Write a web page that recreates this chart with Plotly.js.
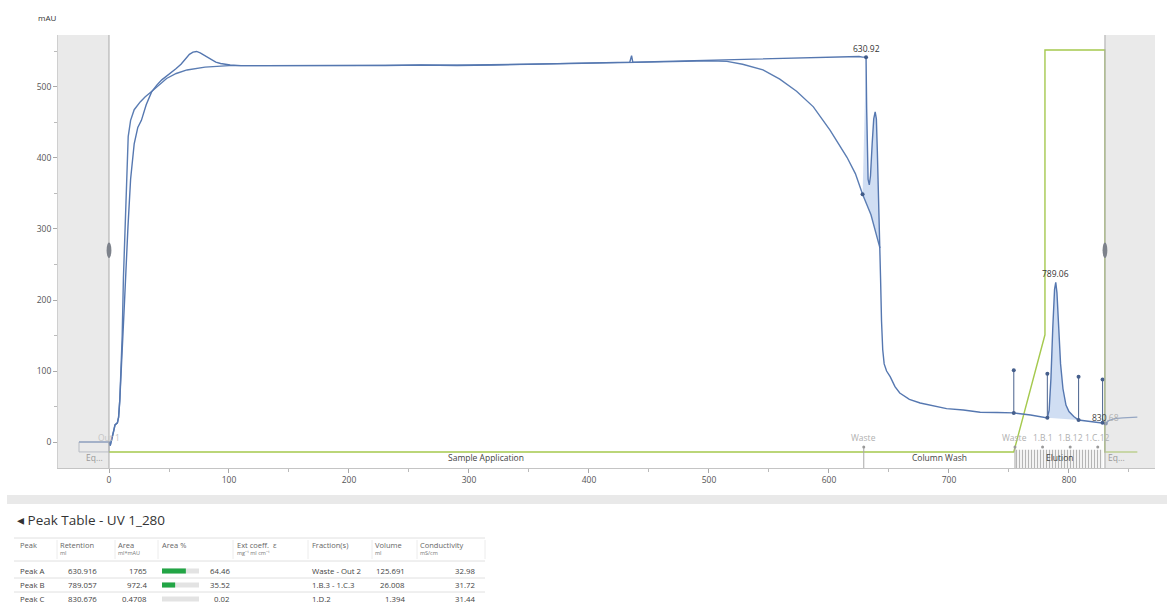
<!DOCTYPE html>
<html><head><meta charset="utf-8">
<script src="https://cdn.plot.ly/plotly-3.0.1.min.js"></script>
<style>html,body{margin:0;padding:0;background:#fff;} #chart{width:1167px;height:605px;}</style>
</head><body><div id="chart"></div><script>
// ---------------- DATA ----------------
const curveAx = [-25, 0, 1, 3.6, 5, 7, 8, 9, 11, 13, 15.8, 18, 21, 24, 27, 31, 35.5, 40, 44, 48, 52, 56, 60, 64, 67, 70, 73, 76, 79, 82, 85, 89, 93, 97, 101, 110, 120, 140, 160, 180, 200, 230, 260, 290, 320, 350, 380, 400, 420, 434, 435.5, 436.5, 438, 460, 480, 500, 520, 540, 560, 580, 600, 615, 625, 628, 630.9, 631.4, 631.9, 632.6, 633.6, 634.6, 636, 637.3, 638.5, 639.5, 640.3, 641, 641.8, 642.5, 643, 643.8, 644.8, 646, 648, 651, 655, 659, 667, 676, 687, 698, 712, 726, 740, 754, 768, 782, 783.5, 785, 786.5, 788, 789, 790, 791.5, 793, 795, 797.5, 800, 804, 808, 818, 828, 830.7, 833, 838, 845, 851, 857];
const curveAy = [0, 0, -5, 13, 24, 27, 35, 59, 120, 200, 303, 370, 420, 443, 453, 475, 493, 503, 510, 515, 520, 526, 532, 540, 546, 549, 550, 548, 545, 541, 538, 535, 533, 532, 531, 530, 530, 529, 530, 529, 530, 530, 531, 530, 531, 532, 533, 533, 534, 535, 544, 535, 535, 536, 536, 537, 538, 539, 540, 541, 542, 542, 543, 542, 542, 470, 400, 370, 362, 375, 420, 455, 465, 455, 410, 350, 295, 273, 230, 170, 130, 110, 100, 92, 78, 69, 60, 55, 51, 47, 45, 42, 41.5, 41, 38, 34, 45, 90, 160, 215, 225, 210, 160, 110, 75, 52, 43, 36, 31, 29, 27, 26, 30, 33, 34, 34, 35];
const curveBx = [0, 1, 3.6, 5, 7, 8, 9, 10, 11, 12, 13.3, 14.5, 16, 18, 21, 26, 30, 35, 42, 48, 56, 65, 80, 100, 130, 160, 200, 250, 300, 350, 400, 450, 480, 500, 515, 528, 545, 559, 573, 587, 601, 615, 622, 628, 635, 642.5];
const curveBy = [0, -5, 13, 24, 27, 35, 59, 100, 150, 230, 303, 380, 430, 453, 468, 479, 486, 493, 503, 512, 519, 524, 528, 530, 530, 530, 530, 531, 531, 532, 533, 535, 536, 537, 536, 532, 524, 511, 494, 472, 439, 401, 378, 349, 320, 273];

const gradientX = [0, 754, 780, 780, 830, 830, 857];
const gradientY = [-14, -14, 151, 552, 552, -14, -14];

const peakLabels = ['630.92', '789.06'];
const peakLabelX = [631.5, 788.5];
const peakLabelY = [542, 225];
const peakMarkX = [630.9, 628, 830.7];
const peakMarkY = [542, 349, 26];
const peakARange = [628, 642.5];
const peakBRange = [782, 808];

const stemX = [754, 782, 808, 828];
const stemTop = [101, 96, 92, 88];
const stemBase = [41, 34, 31, 27];

const fracLabels = ['Out 1', 'Waste', 'Waste', '1.B.1', '1.B.12', '1.C.12'];
const fracX = [0, 629, 755, 778, 801, 824];
const fracLine = [false, true, true, false, false, false];

const phaseNames = ['Eq...', 'Sample Application', 'Column Wash', 'Elution', 'Eq...'];
const phaseStart = [-25, 0, 629, 755, 830];
const phaseEnd = [0, 629, 755, 830, 857];

const xTicks = [0, 100, 200, 300, 400, 500, 600, 700, 800];
const yTicks = [0, 100, 200, 300, 400, 500];

// table
const tableTitle = '\u25C2 Peak Table - UV 1_280';
const headMain = ['Peak', 'Retention', 'Area', 'Area %', 'Ext coeff.  \u03B5', 'Fraction(s)', 'Volume', 'Conductivity'];
const headUnit = ['', 'ml', 'ml*mAU', '', 'mg\u207B\u00B9 ml cm\u207B\u00B9', '', 'ml', 'mS/cm'];
const peakNames = ['Peak A', 'Peak B', 'Peak C'];
const retention = ['630.916', '789.057', '830.676'];
const areaVals = ['1765', '972.4', '0.4708'];
const areaPct = [64.46, 35.52, 0.02];
const fractions = ['Waste - Out 2', '1.B.3 - 1.C.3', '1.D.2'];
const volumes = ['125.691', '26.008', '1.394'];
const conductivity = ['32.98', '31.72', '31.44'];

// ---------------- LAYOUT HELPERS ----------------
const W = 1167, H = 605;
const px = v => v / W;
const py = v => 1 - v / H;
const FONT = 'Open Sans, Noto Sans, sans-serif';
const XR = [-42.5, 871.7], YR = [-36.6, 573.2];

const traces = [];

// elution hatch block
const eIdx = phaseNames.indexOf('Elution');
traces.push({
  x: [phaseStart[eIdx], phaseEnd[eIdx] - 2, phaseEnd[eIdx] - 2, phaseStart[eIdx], phaseStart[eIdx]],
  y: [-11, -11, YR[0], YR[0], -11],
  mode: 'lines', fill: 'toself', line: {width: 0, color: 'rgba(0,0,0,0)'},
  fillcolor: '#f2f2f2',
  fillpattern: {shape: '|', fgcolor: '#b5b5b5', bgcolor: '#f3f3f3', size: 3, solidity: 0.35},
  hoverinfo: 'skip', showlegend: false
});

// gradient / phase line
traces.push({x: gradientX, y: gradientY, mode: 'lines', line: {color: '#a5c94e', width: 1.4}, hoverinfo: 'skip', showlegend: false});

// peak A fill
(function () {
  const fx = [], fy = [];
  fx.push(peakMarkX[0]); fy.push(peakMarkY[0]);
  curveAx.forEach((x, i) => { if (x > peakMarkX[0] && x <= peakARange[1]) { fx.push(x); fy.push(curveAy[i]); } });
  for (let i = curveBx.length - 1; i >= 0; i--) {
    if (curveBx[i] >= peakARange[0] && curveBx[i] <= peakARange[1]) { fx.push(curveBx[i]); fy.push(curveBy[i]); }
  }
  traces.push({x: fx, y: fy, mode: 'lines', fill: 'toself', fillcolor: 'rgba(120,160,220,0.35)', line: {width: 0}, hoverinfo: 'skip', showlegend: false});
})();
// peak B fill
(function () {
  const fx = [], fy = [];
  curveAx.forEach((x, i) => { if (x >= peakBRange[0] && x <= peakBRange[1]) { fx.push(x); fy.push(curveAy[i]); } });
  traces.push({x: fx, y: fy, mode: 'lines', fill: 'toself', fillcolor: 'rgba(120,160,220,0.35)', line: {width: 0}, hoverinfo: 'skip', showlegend: false});
})();

// UV curves
traces.push({x: curveBx, y: curveBy, mode: 'lines', line: {color: '#5b7db3', width: 1.4}, hoverinfo: 'skip', showlegend: false});
traces.push({x: curveAx, y: curveAy, mode: 'lines', line: {color: '#5577b0', width: 1.4}, hoverinfo: 'skip', showlegend: false});

// stems
(function () {
  const sx = [], sy = [];
  stemX.forEach((x, i) => { sx.push(x, x, null); sy.push(stemBase[i], stemTop[i], null); });
  traces.push({x: sx, y: sy, mode: 'lines+markers', line: {color: '#5a7098', width: 1.1}, marker: {size: 4, color: '#465f8c'}, hoverinfo: 'skip', showlegend: false});
})();

// peak markers
traces.push({x: peakMarkX, y: peakMarkY, mode: 'markers', marker: {size: 4, color: '#3f5a88'}, hoverinfo: 'skip', showlegend: false});

// fraction markers
(function () {
  const lx = [], ly = [];
  fracX.forEach((x, i) => { if (fracLine[i]) { lx.push(x, x, null); ly.push(-7, YR[0], null); } });
  traces.push({x: lx, y: ly, mode: 'lines', line: {color: '#a8a8a8', width: 1}, hoverinfo: 'skip', showlegend: false});
  traces.push({x: fracX.slice(1), y: fracX.slice(1).map(() => -7), mode: 'markers', marker: {size: 3, color: '#9a9a9a'}, hoverinfo: 'skip', showlegend: false});
})();

// table area % bars
traces.push({type: 'bar', orientation: 'h', x: areaPct.map(() => 100), y: [2, 1, 0], width: 0.36, marker: {color: '#e3e3e3'}, xaxis: 'x2', yaxis: 'y2', hoverinfo: 'skip', showlegend: false});
traces.push({type: 'bar', orientation: 'h', x: areaPct, y: [2, 1, 0], width: 0.36, marker: {color: '#22a545'}, xaxis: 'x2', yaxis: 'y2', hoverinfo: 'skip', showlegend: false});

// ---------------- SHAPES ----------------
const shapes = [];
shapes.push({type: 'rect', layer: 'above', xref: 'x', yref: 'y domain', x0: XR[0], x1: 0, y0: 0, y1: 1, fillcolor: 'rgba(214,214,214,0.5)', line: {width: 0}});
shapes.push({type: 'rect', layer: 'above', xref: 'x', yref: 'y domain', x0: 830, x1: XR[1], y0: 0, y1: 1, fillcolor: 'rgba(214,214,214,0.5)', line: {width: 0}});
shapes.push({type: 'rect', layer: 'below', xref: 'x', yref: 'y', x0: phaseStart[0], x1: phaseEnd[0], y0: -14, y1: 0, fillcolor: 'rgba(0,0,0,0)', line: {color: '#9aa3b3', width: 1}});
[0, 830].forEach(x => {
  shapes.push({type: 'line', layer: 'above', xref: 'x', yref: 'y domain', x0: x, x1: x, y0: 0, y1: 1, line: {color: '#a9a9a9', width: 1}});
  shapes.push({type: 'circle', layer: 'above', xref: 'x', yref: 'y', x0: x - 2, x1: x + 2, y0: 259, y1: 281, fillcolor: '#7d828b', line: {width: 0}});
});
shapes.push({type: 'rect', xref: 'paper', yref: 'paper', x0: px(7), x1: 1, y0: py(504), y1: py(495), fillcolor: '#e9e9e9', line: {width: 0}});
[538, 561, 578, 592].forEach(yv => shapes.push({type: 'line', xref: 'paper', yref: 'paper', x0: px(14), x1: px(485), y0: py(yv), y1: py(yv), line: {color: '#e0e0e0', width: 1}}));
[57, 115, 158, 233, 308, 372, 417, 485].forEach(xv => shapes.push({type: 'line', xref: 'paper', yref: 'paper', x0: px(xv), x1: px(xv), y0: py(540), y1: py(559), line: {color: '#ececec', width: 1}}));

// ---------------- ANNOTATIONS ----------------
const ann = [];
ann.push({xref: 'paper', yref: 'paper', x: px(36), y: py(18), text: 'mAU', showarrow: false, xanchor: 'left', yanchor: 'middle', font: {family: FONT, size: 8, color: '#333'}});
peakLabels.forEach((t, i) => ann.push({xref: 'x', yref: 'y', x: peakLabelX[i], y: peakLabelY[i], text: t, showarrow: false, xanchor: 'center', yanchor: 'bottom', yshift: 1, font: {family: FONT, size: 8.5, color: '#333'}}));
ann.push({xref: 'x', yref: 'y', x: 830.7, y: 34, text: "830<span style='color:#b0b0b0'>.68</span>", showarrow: false, xanchor: 'center', yanchor: 'middle', font: {family: FONT, size: 8.5, color: '#444'}});
fracLabels.forEach((t, i) => ann.push({xref: 'x', yref: 'y', x: fracX[i], y: 7, text: t, showarrow: false, xanchor: 'center', yanchor: 'middle', font: {family: FONT, size: 8.5, color: i === 0 ? '#c5c5c5' : '#b0b0b0'}}));
phaseNames.forEach((t, i) => ann.push({xref: 'x', yref: 'y', x: (phaseStart[i] + phaseEnd[i]) / 2 + (i === 4 ? -4 : 0), y: -22.5, text: t, showarrow: false, xanchor: 'center', yanchor: 'middle', font: {family: FONT, size: 8.5, color: (i === 0 || i === 4) ? '#999' : '#444'}}));

ann.push({xref: 'paper', yref: 'paper', x: px(15), y: py(520), text: tableTitle, showarrow: false, xanchor: 'left', yanchor: 'middle', font: {family: FONT, size: 13.5, color: '#333'}});
const headX = [18, 58, 116, 160, 235, 310, 373, 418];
headMain.forEach((t, i) => {
  ann.push({xref: 'paper', yref: 'paper', x: px(headX[i]), y: py(545), text: t, showarrow: false, xanchor: 'left', yanchor: 'middle', font: {family: FONT, size: 7.5, color: '#666'}});
  if (headUnit[i]) ann.push({xref: 'paper', yref: 'paper', x: px(headX[i]), y: py(553), text: headUnit[i], showarrow: false, xanchor: 'left', yanchor: 'middle', font: {family: FONT, size: 5.5, color: '#777'}});
});
const rowY = [571, 585, 599];
const cellFont = {family: FONT, size: 7.8, color: '#444'};
peakNames.forEach((p, r) => {
  const yy = py(rowY[r]);
  ann.push({xref: 'paper', yref: 'paper', x: px(18), y: yy, text: p, showarrow: false, xanchor: 'left', yanchor: 'middle', font: cellFont});
  ann.push({xref: 'paper', yref: 'paper', x: px(99), y: yy, text: retention[r], showarrow: false, xanchor: 'right', yanchor: 'middle', font: cellFont});
  ann.push({xref: 'paper', yref: 'paper', x: px(149), y: yy, text: areaVals[r], showarrow: false, xanchor: 'right', yanchor: 'middle', font: cellFont});
  ann.push({xref: 'paper', yref: 'paper', x: px(232), y: yy, text: areaPct[r].toFixed(2), showarrow: false, xanchor: 'right', yanchor: 'middle', font: cellFont});
  ann.push({xref: 'paper', yref: 'paper', x: px(310), y: yy, text: fractions[r], showarrow: false, xanchor: 'left', yanchor: 'middle', font: cellFont});
  ann.push({xref: 'paper', yref: 'paper', x: px(407), y: yy, text: volumes[r], showarrow: false, xanchor: 'right', yanchor: 'middle', font: cellFont});
  ann.push({xref: 'paper', yref: 'paper', x: px(477), y: yy, text: conductivity[r], showarrow: false, xanchor: 'right', yanchor: 'middle', font: cellFont});
});

const layout = {
  width: W, height: H,
  margin: {l: 0, r: 0, t: 0, b: 0, pad: 0},
  paper_bgcolor: '#fff', plot_bgcolor: '#fff',
  showlegend: false, barmode: 'overlay',
  font: {family: FONT, size: 8.5, color: '#555'},
  xaxis: {
    domain: [px(58), px(1155)], range: XR, showgrid: false, zeroline: false,
    showline: true, linecolor: '#c4c4c4', linewidth: 1,
    tickmode: 'array', tickvals: xTicks, ticks: 'outside', ticklen: 4, tickcolor: '#aaa',
    tickfont: {family: FONT, size: 8.5, color: '#555'},
    minor: {dtick: 50, tick0: 0, ticks: 'outside', ticklen: 3, tickcolor: '#bbb', showgrid: false}
  },
  yaxis: {
    domain: [py(468), py(35)], range: YR, showgrid: false, zeroline: false,
    showline: true, linecolor: '#cfcfcf', linewidth: 1,
    tickmode: 'array', tickvals: yTicks, ticks: 'outside', ticklen: 4, tickcolor: '#aaa',
    tickfont: {family: FONT, size: 8.5, color: '#555'},
    minor: {dtick: 50, tick0: 0, ticks: 'outside', ticklen: 3, tickcolor: '#bbb', showgrid: false}
  },
  xaxis2: {domain: [px(162), px(199)], range: [0, 100], visible: false, anchor: 'y2', fixedrange: true},
  yaxis2: {domain: [py(604), py(564)], range: [-0.357, 2.5], visible: false, anchor: 'x2', fixedrange: true},
  shapes: shapes,
  annotations: ann
};

Plotly.newPlot('chart', traces, layout, {staticPlot: true, displayModeBar: false});
</script></body></html>
